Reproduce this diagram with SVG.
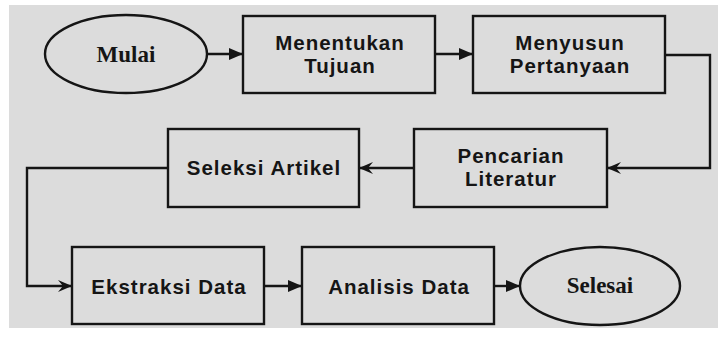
<svg xmlns="http://www.w3.org/2000/svg" width="718" height="338" viewBox="0 0 718 338">
  <style>
    .box { fill: none; stroke: #151515; stroke-width: 2.4; }
    .ell { fill: none; stroke: #151515; stroke-width: 2.4; }
    .lbl { font-family: "Liberation Sans", Arial, sans-serif; font-weight: bold; font-size: 20.5px; fill: #151515; text-anchor: middle; letter-spacing: 1px; }
    .term { font-family: "Liberation Serif", "Times New Roman", serif; font-weight: bold; font-size: 23px; fill: #151515; text-anchor: middle; }
    .conn { fill: none; stroke: #151515; stroke-width: 2.4; }
  </style>
  <defs>
    <marker id="tri" viewBox="0 0 14 12" refX="14" refY="6" markerWidth="14" markerHeight="12" markerUnits="userSpaceOnUse" orient="auto">
      <path d="M0,0 L14,6 L0,12 z" fill="#151515"/>
    </marker>
    <marker id="stealth" viewBox="0 0 14 12" refX="14" refY="6" markerWidth="14" markerHeight="12" markerUnits="userSpaceOnUse" orient="auto">
      <path d="M0,0 L14,6 L0,12 L5,6 z" fill="#151515"/>
    </marker>
  </defs>
  <rect x="0" y="0" width="718" height="338" fill="#ffffff"/>
  <rect x="9" y="5" width="709" height="323" fill="#dcdcdc"/>

  <g id="connectors">
    <path class="conn" d="M207,54 H243" marker-end="url(#tri)"/>
    <path class="conn" d="M435,54 H473" marker-end="url(#tri)"/>
    <path class="conn" d="M665,55 H710 V168 H607" marker-end="url(#stealth)"/>
    <path class="conn" d="M414,168 H359" marker-end="url(#stealth)"/>
    <path class="conn" d="M168,168 H27 V286 H72" marker-end="url(#stealth)"/>
    <path class="conn" d="M264,286 H302" marker-end="url(#tri)"/>
    <path class="conn" d="M494,286 H520" marker-end="url(#tri)"/>
  </g>

  <g id="mulai">
    <ellipse class="ell" cx="126" cy="54" rx="81" ry="39"/>
    <text class="term" x="126" y="62">Mulai</text>
  </g>
  <g id="menentukan-tujuan">
    <rect class="box" x="243" y="16" width="192" height="77"/>
    <text class="lbl" x="340" y="50">Menentukan</text>
    <text class="lbl" x="340" y="73">Tujuan</text>
  </g>
  <g id="menyusun-pertanyaan">
    <rect class="box" x="473" y="16" width="192" height="77"/>
    <text class="lbl" x="570" y="50">Menyusun</text>
    <text class="lbl" x="570" y="73">Pertanyaan</text>
  </g>
  <g id="pencarian-literatur">
    <rect class="box" x="414" y="129" width="193" height="78"/>
    <text class="lbl" x="511" y="163">Pencarian</text>
    <text class="lbl" x="511" y="186">Literatur</text>
  </g>
  <g id="seleksi-artikel">
    <rect class="box" x="168" y="129" width="191" height="78"/>
    <text class="lbl" x="264" y="175">Seleksi Artikel</text>
  </g>
  <g id="ekstraksi-data">
    <rect class="box" x="72" y="247" width="192" height="77"/>
    <text class="lbl" x="169" y="294">Ekstraksi Data</text>
  </g>
  <g id="analisis-data">
    <rect class="box" x="302" y="247" width="192" height="77"/>
    <text class="lbl" x="399" y="294">Analisis Data</text>
  </g>
  <g id="selesai">
    <ellipse class="ell" cx="600" cy="286" rx="80" ry="39"/>
    <text class="term" x="600" y="293">Selesai</text>
  </g>
</svg>
